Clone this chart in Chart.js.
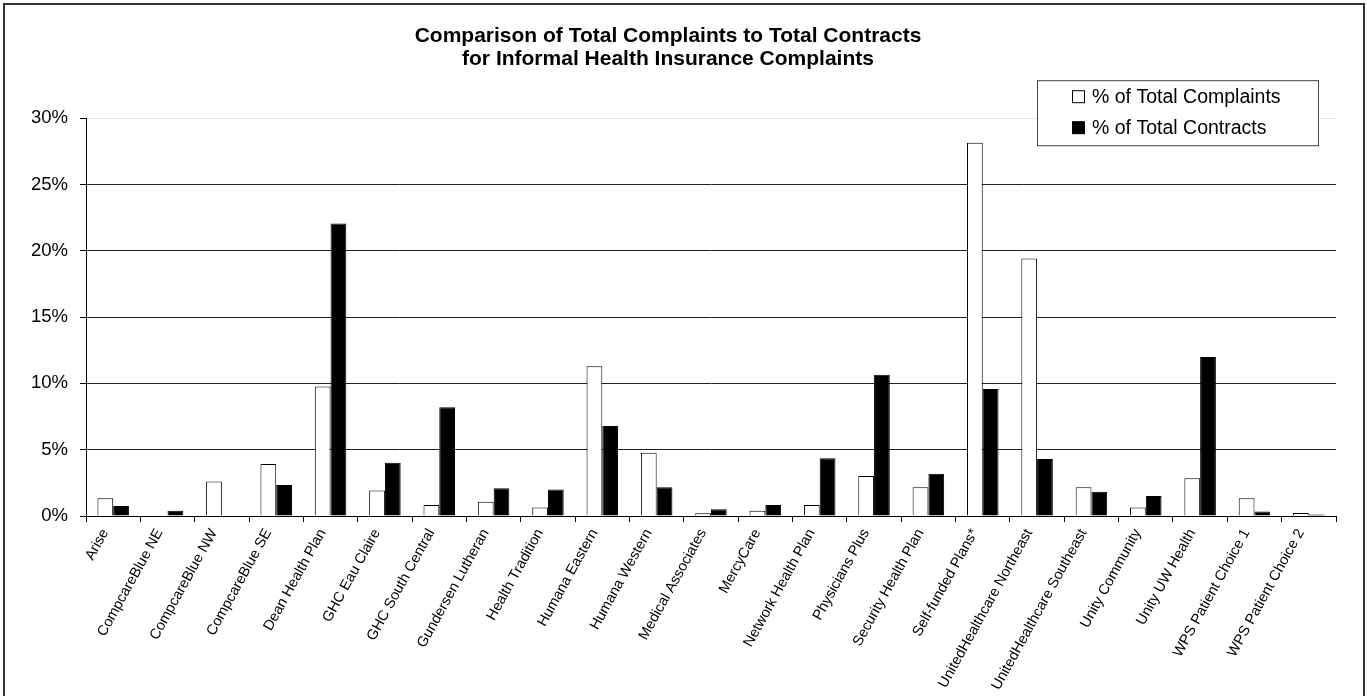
<!DOCTYPE html>
<html>
<head>
<meta charset="utf-8">
<script src="https://cdn.jsdelivr.net/npm/chart.js@4/dist/chart.umd.min.js"></script>
<style>
  html, body { margin: 0; padding: 0; background: #fff; }
  #wrap { width: 1367px; height: 696px; }
</style>
</head>
<body>
<div id="wrap"><canvas id="chart" width="1367" height="696"></canvas></div>
<script>
"use strict";

const PLANS = [
  "Arise", "CompcareBlue NE", "CompcareBlue NW", "CompcareBlue SE", "Dean Health Plan",
  "GHC Eau Claire", "GHC South Central", "Gundersen Lutheran", "Health Tradition",
  "Humana Eastern", "Humana Western", "Medical Associates", "MercyCare",
  "Network Health Plan", "Physicians Plus", "Security Health Plan", "Self-funded Plans*",
  "UnitedHealthcare Northeast", "UnitedHealthcare Southeast", "Unity Community",
  "Unity UW Health", "WPS Patient Choice 1", "WPS Patient Choice 2",
];

// percent of all complaints / all contracts
const COMPLAINTS = [1.33, 0, 2.6, 3.92, 9.77, 1.93, 0.83, 1.08, 0.65, 11.3, 4.77, 0.2, 0.4,
  0.83, 3.01, 2.16, 28.15, 19.42, 2.16, 0.65, 2.84, 1.33, 0.23];
const CONTRACTS = [0.75, 0.4, 0, 2.34, 22.05, 4.02, 8.21, 2.09, 2.0, 6.78, 2.16, 0.5, 0.83,
  4.35, 10.65, 3.19, 9.57, 4.3, 1.83, 1.5, 12.0, 0.33, 0.12];

const Y_MAX = 30;
const Y_STEP = 5;

const TITLE_LINES = [
  "Comparison of Total Complaints to Total Contracts",
  "for Informal Health Insurance Complaints",
];

const FONT = "Arial, 'Liberation Sans', sans-serif";

// white page with the thin frame round it
const framePlugin = {
  id: "frame",
  beforeDraw(chart) {
    const ctx = chart.ctx;
    ctx.save();
    ctx.fillStyle = "#fff";
    ctx.fillRect(0, 0, chart.width, chart.height);
    ctx.strokeStyle = "#333";
    ctx.lineWidth = 2;
    ctx.strokeRect(4, 4, chart.width - 7, chart.height + 10);
    ctx.restore();
  },
};

// boxed legend sitting over the top right of the plot, like the Excel one
const boxLegendPlugin = {
  id: "boxLegend",
  afterDraw(chart) {
    const ctx = chart.ctx;
    const area = chart.chartArea;
    const w = 281, h = 65;
    const x = area.right - 18 - w;
    const y = area.top - 38;
    ctx.save();
    ctx.fillStyle = "#fff";
    ctx.fillRect(x, y, w, h);
    ctx.strokeStyle = "#444";
    ctx.lineWidth = 1;
    ctx.strokeRect(x + 0.5, y + 0.5, w, h);
    ctx.font = "19.5px " + FONT;
    ctx.textBaseline = "middle";
    chart.data.datasets.forEach((ds, i) => {
      const cy = y + 17 + i * 31;
      ctx.fillStyle = ds.backgroundColor;
      ctx.fillRect(x + 35.5, cy - 6.5, 12, 12);
      ctx.strokeStyle = "#000";
      ctx.strokeRect(x + 35.5, cy - 6.5, 12, 12);
      ctx.fillStyle = "#000";
      ctx.fillText(ds.label, x + 55, cy);
    });
    ctx.restore();
  },
};

new Chart(document.getElementById("chart"), {
  type: "bar",
  data: {
    labels: PLANS,
    datasets: [
      { label: "% of Total Complaints", data: COMPLAINTS, backgroundColor: "#ffffff",
        borderColor: "#000", borderWidth: 1 },
      { label: "% of Total Contracts", data: CONTRACTS, backgroundColor: "#000000",
        borderColor: "#000", borderWidth: 1 },
    ],
  },
  options: {
    responsive: false,
    animation: false,
    layout: { padding: { left: 0, right: 31, top: 0, bottom: 0 } },
    datasets: { bar: { categoryPercentage: 0.58, barPercentage: 1 } },
    plugins: {
      legend: { display: false },
      tooltip: { enabled: false },
      title: {
        display: true,
        text: TITLE_LINES,
        color: "#000",
        font: { family: FONT, size: 21, weight: "bold", lineHeight: 1.1 },
        padding: { top: 25, bottom: 47 },
      },
    },
    scales: {
      x: {
        afterFit(scale) { scale.height = 180; },
        border: { color: "#000", width: 1 },
        grid: { display: true, offset: true, drawOnChartArea: false, drawTicks: true,
          tickLength: 6, tickColor: "#000" },
        ticks: {
          autoSkip: false, maxRotation: 61, minRotation: 61, labelOffset: -8, padding: 4,
          color: "#000", font: { family: FONT, size: 14.5 },
        },
      },
      y: {
        min: 0,
        max: Y_MAX,
        afterFit(scale) { scale.width = 86; },
        border: { color: "#000", width: 1 },
        grid: {
          color: (c) => (c.tick && c.tick.value === Y_MAX ? "#e4e4e4" : "#222"),
          tickLength: 6, tickColor: "#000",
        },
        ticks: {
          stepSize: Y_STEP, padding: 12, color: "#000",
          font: { family: FONT, size: 18.5 },
          callback: (v) => v + "%",
        },
      },
    },
  },
  plugins: [framePlugin, boxLegendPlugin],
});
</script>
</body>
</html>
